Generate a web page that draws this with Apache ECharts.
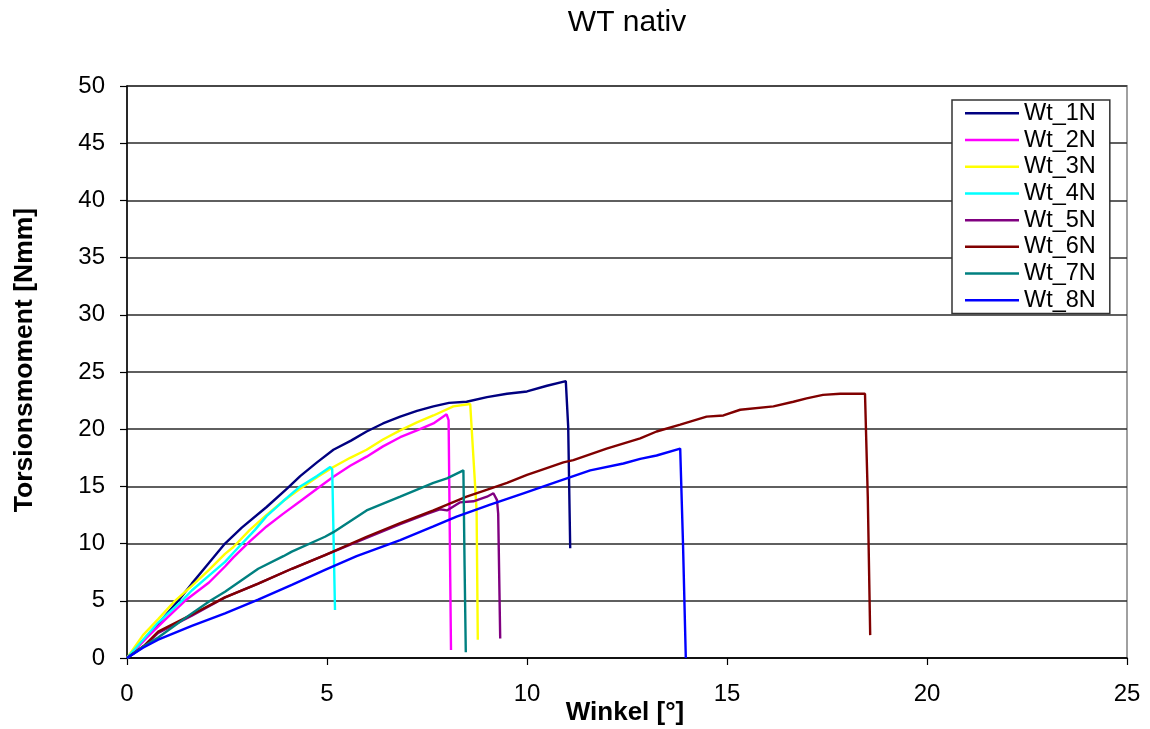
<!DOCTYPE html>
<html>
<head>
<meta charset="utf-8">
<script src="https://cdn.jsdelivr.net/npm/echarts@6/dist/echarts.min.js"></script>
<style>
html,body{margin:0;padding:0;background:#fff;}
#chart{width:1150px;height:729px;}
</style>
</head>
<body>
<div id="chart"></div>
<script>
const titleText = 'WT nativ';
const xAxisName = 'Winkel [°]';
const yAxisName = 'Torsionsmoment [Nmm]';
const seriesNames = ['Wt_1N','Wt_2N','Wt_3N','Wt_4N','Wt_5N','Wt_6N','Wt_7N','Wt_8N'];
const seriesColors = ['#000080','#FF00FF','#FFFF00','#00FFFF','#800080','#800000','#008080','#0000FF'];

const angle1 = [0,0.4,0.78,1.28,1.62,2.0,2.45,2.87,3.49,4.0,4.33,4.75,5.16,5.6,5.99,6.4,6.83,7.25,7.66,8.05,8.49,9.0,9.5,10.0,10.5,10.97,11.03,11.08];
const torque1 = [0,1.5,3.0,5.0,6.5,8.1,10.0,11.4,13.2,14.8,15.9,17.1,18.2,19.0,19.8,20.5,21.1,21.6,22.0,22.3,22.4,22.8,23.1,23.3,23.8,24.2,20.2,9.6];

const angle2 = [0,0.5,1.0,1.45,2.05,2.45,2.66,3.07,3.49,3.9,4.33,4.75,5.16,5.58,5.99,6.4,6.83,7.25,7.66,7.99,8.04,8.1];
const torque2 = [0,1.8,3.5,5.0,6.6,8.0,8.8,10.2,11.5,12.6,13.7,14.8,15.85,16.8,17.6,18.5,19.3,19.9,20.5,21.3,20.8,0.7];

const angle3 = [0,0.4,0.78,1.2,1.62,2.05,2.45,2.66,3.07,3.49,3.9,4.33,4.75,5.16,5.58,5.99,6.4,6.83,7.25,7.66,8.16,8.58,8.62,8.74,8.77];
const torque3 = [0,2.0,3.4,5.0,6.3,7.7,9.1,9.7,11.2,12.5,13.7,14.8,15.8,16.7,17.5,18.2,19.1,19.9,20.6,21.2,22.0,22.2,22.1,12.9,1.6];

const angle4 = [0,0.4,0.78,1.37,1.62,2.05,2.45,2.66,3.2,3.49,3.9,4.33,4.75,5.08,5.13,5.2];
const torque4 = [0,1.6,3.1,5.0,5.9,7.2,8.4,9.2,11.2,12.4,13.7,15.0,15.9,16.7,16.5,4.2];

const angle5 = [0,0.45,0.78,1.62,2.45,3.28,4.12,4.95,5.99,6.83,7.5,7.82,8.0,8.32,8.66,9.0,9.16,9.25,9.28,9.33];
const torque5 = [0,1.1,2.2,3.7,5.3,6.5,7.8,9.0,10.5,11.7,12.6,13.0,12.9,13.6,13.7,14.1,14.4,13.8,12.6,1.7];

const angle6 = [0,0.45,0.78,1.62,2.45,3.28,4.12,4.95,5.99,6.83,7.66,8.49,8.99,9.5,10.0,10.33,10.91,11.16,11.99,12.83,13.24,13.83,14.49,14.91,15.33,16.16,16.66,16.99,17.4,17.83,18.45,18.52,18.58];
const torque6 = [0,1.15,2.3,3.8,5.3,6.5,7.8,9.0,10.6,11.8,12.9,14.1,14.7,15.3,16.0,16.4,17.1,17.3,18.3,19.2,19.8,20.4,21.1,21.2,21.7,22.0,22.4,22.7,23.0,23.1,23.1,14.0,2.0];

const angle7 = [0,0.45,0.78,1.62,2.08,2.45,3.28,3.91,4.12,4.95,5.16,5.99,6.83,7.66,8.0,8.41,8.44,8.47];
const torque7 = [0,1.1,1.8,3.9,5.0,5.8,7.8,8.9,9.3,10.6,11.0,12.9,14.1,15.3,15.7,16.4,8.0,0.5];

const angle8 = [0,0.4,0.78,1.62,2.45,3.28,4.12,4.95,5.74,6.83,7.66,8.24,9.08,9.91,10.74,11.58,12.41,12.83,13.24,13.83,13.9,13.97];
const torque8 = [0,0.9,1.6,2.8,3.9,5.1,6.4,7.7,8.9,10.3,11.5,12.35,13.4,14.4,15.4,16.4,17.0,17.4,17.7,18.3,10.0,0];

const xTicks = [0,5,10,15,20,25];
const yTicks = [0,5,10,15,20,25,30,35,40,45,50];

const angles = [angle1,angle2,angle3,angle4,angle5,angle6,angle7,angle8];
const torques = [torque1,torque2,torque3,torque4,torque5,torque6,torque7,torque8];

const FONT = 'Liberation Sans, Arial, sans-serif';

const series = seriesNames.map((name, i) => ({
  name: name,
  type: 'line',
  symbol: 'none',
  showSymbol: false,
  smooth: false,
  data: angles[i].map((a, j) => [a, torques[i][j]]),
  lineStyle: { color: seriesColors[i], width: 2.4 },
  itemStyle: { color: seriesColors[i] }
}));

const chart = echarts.init(document.getElementById('chart'), null, { renderer: 'canvas' });
chart.setOption({
  animation: false,
  backgroundColor: '#ffffff',
  grid: {
    left: 127, right: 23, top: 86, bottom: 71,
    show: true, borderColor: '#a0a0a0', borderWidth: 2, backgroundColor: 'transparent'
  },
  xAxis: {
    type: 'value',
    min: xTicks[0], max: xTicks[xTicks.length - 1], interval: 5,
    axisLine: { show: true, onZero: false, lineStyle: { color: '#000', width: 1.5 } },
    axisTick: { show: true, inside: false, length: 7, lineStyle: { color: '#000', width: 1.2 } },
    axisLabel: { color: '#000', fontSize: 24, fontFamily: FONT, margin: 24 },
    splitLine: { show: false }
  },
  yAxis: {
    type: 'value',
    min: yTicks[0], max: yTicks[yTicks.length - 1], interval: 5,
    axisLine: { show: true, onZero: false, lineStyle: { color: '#000', width: 1.5 } },
    axisTick: { show: true, inside: false, length: 7, lineStyle: { color: '#000', width: 1.2 } },
    axisLabel: { color: '#000', fontSize: 24, fontFamily: FONT, margin: 22 },
    splitLine: { show: true, lineStyle: { color: '#2a2a2a', width: 1.5 } }
  },
  legend: {
    orient: 'vertical',
    left: 952, top: 100,
    padding: [0, 14, 0, 13],
    itemGap: 0,
    icon: 'rect',
    itemWidth: 54, itemHeight: 2.5,
    backgroundColor: '#ffffff',
    borderColor: '#333',
    borderWidth: 1.5,
    borderRadius: 0,
    textStyle: { color: '#000', fontSize: 23.5, fontFamily: FONT, lineHeight: 26.7 },
    data: seriesNames
  },
  graphic: [
    { type: 'text', z: 100, style: { text: titleText, x: 627, y: 23, textAlign: 'center', textVerticalAlign: 'middle', font: '30px ' + FONT, fill: '#000' } },
    { type: 'text', z: 100, style: { text: xAxisName, x: 625, y: 713, textAlign: 'center', textVerticalAlign: 'middle', font: 'bold 26px ' + FONT, fill: '#000' } },
    { type: 'text', z: 100, x: 25, y: 360, rotation: Math.PI / 2, style: { text: yAxisName, x: 0, y: 0, textAlign: 'center', textVerticalAlign: 'middle', font: 'bold 26.5px ' + FONT, fill: '#000' } }
  ],
  series: series
});
</script>
</body>
</html>
